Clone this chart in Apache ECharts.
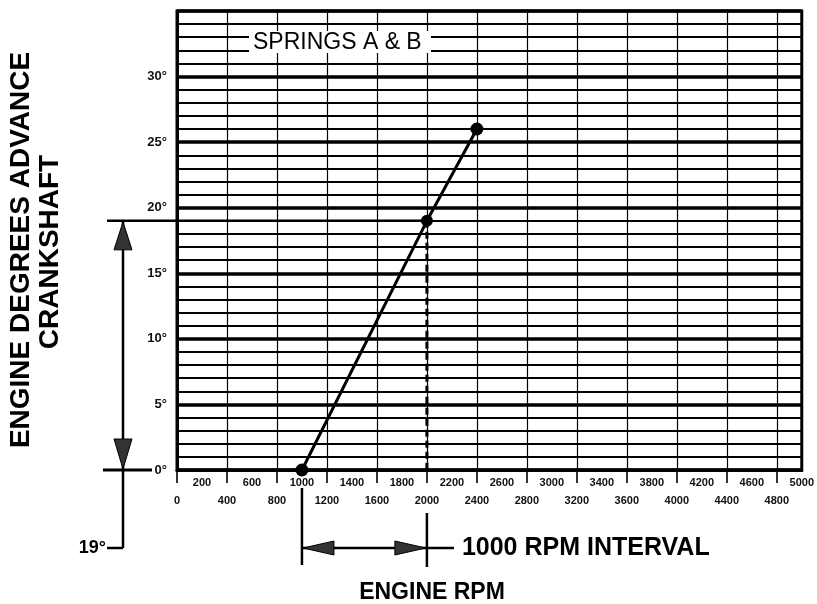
<!DOCTYPE html>
<html>
<head>
<meta charset="utf-8">
<script src="https://cdn.jsdelivr.net/npm/echarts@6/dist/echarts.min.js"></script>
<style>
  html, body { margin: 0; padding: 0; background: #fff; }
  #chart { width: 817px; height: 604px; }
</style>
</head>
<body>
<div id="chart"></div>
<script>
// ---- data ----
const rpm = [1000, 2000, 2400];
const advance = [0, 19, 26];
const refRpm = 2000;          // dashed reference line
const refAdvance = 19;        // 19 degree reference
const intervalStart = 1000;   // 1000 RPM interval annotation
const intervalEnd = 2000;
const xLabelsTop = [200, 600, 1000, 1400, 1800, 2200, 2600, 3000, 3400, 3800, 4200, 4600, 5000];
const xLabelsBottom = [0, 400, 800, 1200, 1600, 2000, 2400, 2800, 3200, 3600, 4000, 4400, 4800];
const xTickBars = [0, 400, 800, 1200, 1600, 2000, 2400, 2800, 3200, 3600, 4000, 4400, 4800];
const yLabels = [0, 5, 10, 15, 20, 25, 30];
const xMin = 0, xMax = 5000, yMin = 0, yMax = 35;

const FONT = "'Liberation Sans', Arial, sans-serif";
const chart = echarts.init(document.getElementById('chart'), null, { renderer: 'canvas' });

const option = {
  animation: false,
  backgroundColor: '#fff',
  grid: { left: 177, right: 9, top: 11, bottom: 134, show: true, borderColor: '#000', borderWidth: 3, backgroundColor: 'transparent' },
  xAxis: [
    {
      type: 'value', min: xMin, max: xMax, interval: 200, position: 'bottom',
      axisLine: { show: true, lineStyle: { color: '#000', width: 3 } },
      axisTick: { show: true, customValues: xTickBars, length: 13, lineStyle: { color: '#000', width: 1.6 } },
      axisLabel: { customValues: xLabelsTop, margin: 7, color: '#111', fontSize: 11, fontWeight: 'bold', fontFamily: FONT, formatter: v => String(v) },
      splitLine: { show: true, lineStyle: { color: '#000', width: 1.2 } }
    },
    {
      type: 'value', min: xMin, max: xMax, interval: 200, position: 'bottom',
      axisLine: { show: false }, axisTick: { show: false },
      axisLabel: { customValues: xLabelsBottom, margin: 25, color: '#111', fontSize: 11, fontWeight: 'bold', fontFamily: FONT, formatter: v => String(v) },
      splitLine: { show: false }
    }
  ],
  yAxis: {
    type: 'value', min: yMin, max: yMax, interval: 5,
    axisLine: { show: true, lineStyle: { color: '#000', width: 3 } },
    axisTick: { show: false },
    axisLabel: {
      margin: 10, color: '#111', fontSize: 13, fontWeight: 'bold', fontFamily: FONT,
      formatter: v => (yLabels.indexOf(v) >= 0 ? v + '°' : '')
    },
    splitLine: { show: true, lineStyle: { color: '#000', width: 3.5 } },
    minorTick: { show: false, splitNumber: 5 },
    minorSplitLine: { show: true, lineStyle: { color: '#000', width: 1.8 } }
  },
  series: [
    {
      type: 'line', z: 5,
      data: [[refRpm, refAdvance], [refRpm, yMin]],
      symbol: 'none',
      lineStyle: { color: '#000', width: 3, type: [7, 4] }
    },
    {
      type: 'line', z: 6,
      data: rpm.map((r, i) => [r, advance[i]]),
      symbol: 'circle',
      symbolSize: (v, p) => (p.dataIndex === 1 ? 12 : 13),
      itemStyle: { color: '#000' },
      lineStyle: { color: '#000', width: 3 }
    }
  ]
};
chart.setOption(option);

function px(x, y) { return chart.convertToPixel({ gridIndex: 0 }, [x, y]); }
const p19 = px(refRpm, refAdvance);
const p0 = px(xMin, yMin);
const pS = px(intervalStart, yMin);
const pE = px(intervalEnd, yMin);
const yTop = px(xMin, yMax)[1];

const arrowX = p0[0] - 54;
const arrowBottom = p0[1] + 78;
const barY = p0[1] + 78;
const stroke = { stroke: '#000', lineWidth: 2.5 };
const arrowStyle = { fill: '#333', stroke: '#000', lineWidth: 1 };

const graphic = [
  // vertical 19 degree arrow
  { type: 'line', shape: { x1: arrowX, y1: p19[1], x2: arrowX, y2: arrowBottom }, style: stroke, z: 50 },
  { type: 'polygon', shape: { points: [[arrowX, p19[1] + 1], [arrowX - 9, p19[1] + 29], [arrowX + 9, p19[1] + 29]] }, style: arrowStyle, z: 51 },
  { type: 'polygon', shape: { points: [[arrowX, p0[1] - 1], [arrowX - 9, p0[1] - 31], [arrowX + 9, p0[1] - 31]] }, style: arrowStyle, z: 51 },
  { type: 'line', shape: { x1: arrowX - 16, y1: arrowBottom, x2: arrowX, y2: arrowBottom }, style: stroke, z: 50 },
  { type: 'text', style: { x: arrowX - 17, y: arrowBottom, text: '19°', align: 'right', verticalAlign: 'middle', fontSize: 18, fontWeight: 'bold', fontFamily: FONT, fill: '#000' }, z: 50 },
  // horizontal 19 degree line
  { type: 'line', shape: { x1: arrowX - 16, y1: p19[1], x2: p19[0], y2: p19[1] }, style: { stroke: '#000', lineWidth: 2.5 }, z: 50 },
  // zero tick
  { type: 'line', shape: { x1: arrowX - 20, y1: p0[1], x2: arrowX + 29, y2: p0[1] }, style: { stroke: '#000', lineWidth: 3 }, z: 50 },
  // 1000 RPM interval
  { type: 'line', shape: { x1: pS[0], y1: p0[1] + 18, x2: pS[0], y2: p0[1] + 95 }, style: stroke, z: 50 },
  { type: 'line', shape: { x1: pE[0], y1: p0[1] + 43, x2: pE[0], y2: p0[1] + 97 }, style: stroke, z: 50 },
  { type: 'line', shape: { x1: pS[0], y1: barY, x2: pE[0] + 27, y2: barY }, style: stroke, z: 50 },
  { type: 'polygon', shape: { points: [[pS[0] + 1, barY], [pS[0] + 32, barY - 7], [pS[0] + 32, barY + 7]] }, style: arrowStyle, z: 51 },
  { type: 'polygon', shape: { points: [[pE[0] - 1, barY], [pE[0] - 32, barY - 7], [pE[0] - 32, barY + 7]] }, style: arrowStyle, z: 51 },
  { type: 'text', style: { x: pE[0] + 35, y: barY, text: '1000 RPM INTERVAL', align: 'left', verticalAlign: 'middle', fontSize: 25, fontWeight: 'bold', fontFamily: FONT, fill: '#000' }, z: 50 },
  // x-axis title
  { type: 'text', style: { x: 432, y: 593, text: 'ENGINE RPM', align: 'center', verticalAlign: 'middle', fontSize: 23, fontWeight: 'bold', fontFamily: FONT, fill: '#000' }, z: 50 },
  // y-axis titles
  { type: 'text', x: 21, y: 250, rotation: Math.PI / 2, style: { x: 0, y: 0, text: 'ENGINE DEGREES ADVANCE', align: 'center', verticalAlign: 'middle', fontSize: 28, fontWeight: 'bold', fontFamily: FONT, fill: '#000' }, z: 50 },
  { type: 'text', x: 50, y: 252, rotation: Math.PI / 2, style: { x: 0, y: 0, text: 'CRANKSHAFT', align: 'center', verticalAlign: 'middle', fontSize: 28, fontWeight: 'bold', fontFamily: FONT, fill: '#000' }, z: 50 },
  // springs label
  { type: 'rect', shape: { x: 249, y: yTop + 20, width: 182, height: 22 }, style: { fill: '#fff' }, z: 60 },
  { type: 'text', style: { x: 253, y: yTop + 32, text: 'SPRINGS A & B', align: 'left', verticalAlign: 'middle', fontSize: 23, fontFamily: FONT, fill: '#000' }, z: 61 }
];
chart.setOption({ graphic: graphic });
</script>
</body>
</html>
